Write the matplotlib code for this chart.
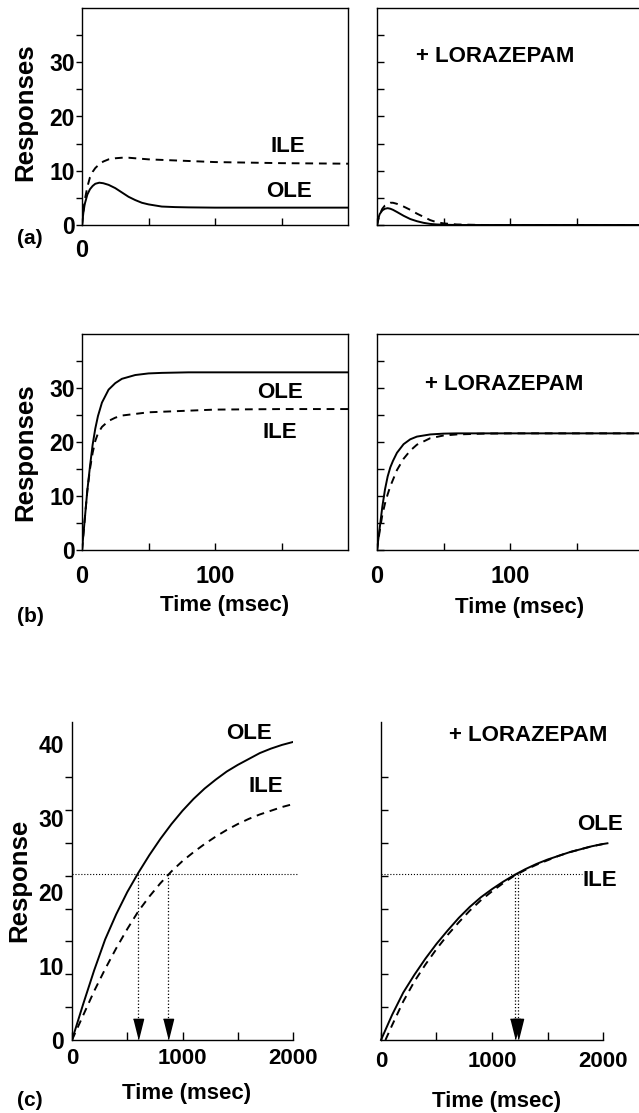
import matplotlib

matplotlib.use("Agg")
import matplotlib.pyplot as plt

plt.rcParams["font.family"] = ["Liberation Sans", "DejaVu Sans"]
plt.rcParams["font.weight"] = "bold"

# (a) responses, control and + lorazepam
t_a = [0, 1, 2, 4, 6, 8, 10, 13, 16, 20, 25, 30, 35, 40, 45, 50, 55, 60, 70, 80, 100, 150, 200]
ole_a = [0, 2.2, 3.8, 5.6, 6.6, 7.2, 7.6, 7.8, 7.7, 7.4, 6.8, 6.0, 5.2, 4.6, 4.1, 3.8, 3.6, 3.4,
         3.3, 3.25, 3.2, 3.2, 3.2]
ile_a = [0, 2.5, 4.5, 7.0, 8.8, 9.8, 10.5, 11.2, 11.7, 12.1, 12.3, 12.4, 12.4, 12.3, 12.2, 12.1,
         12.05, 12.0, 11.9, 11.8, 11.6, 11.4, 11.3]

t_a_lz = [0, 1, 2, 4, 6, 8, 10, 12, 15, 20, 25, 30, 35, 40, 45, 50, 60, 80, 100, 150, 200]
ole_a_lz = [0, 1.2, 2.0, 2.7, 3.0, 3.1, 3.0, 2.8, 2.4, 1.7, 1.1, 0.7, 0.4, 0.2, 0.1, 0.05, 0, 0,
            0, 0, 0]
ile_a_lz = [0, 1.0, 1.9, 3.0, 3.6, 3.9, 4.1, 4.1, 3.9, 3.4, 2.8, 2.1, 1.5, 0.9, 0.5, 0.3, 0.1, 0,
            0, 0, 0]

# (b)
t_b = [0, 2, 4, 6, 8, 10, 12, 15, 20, 25, 30, 40, 50, 60, 80, 100, 150, 200]
ole_b = [0, 5.5, 11, 15.5, 19.5, 22.5, 24.8, 27.3, 29.7, 30.9, 31.7, 32.4, 32.7, 32.8, 32.9,
         32.9, 32.9, 32.9]
ile_b = [0, 5.5, 11, 15, 18, 20.2, 21.6, 22.8, 23.9, 24.5, 24.9, 25.2, 25.5, 25.6, 25.8, 26.0,
         26.1, 26.1]
ole_b_lz = [0, 4.0, 8.0, 11.2, 13.6, 15.3, 16.5, 18.0, 19.6, 20.5, 21.0, 21.4, 21.55, 21.6, 21.6,
            21.6, 21.6, 21.6]
ile_b_lz = [0, 3.5, 6.5, 8.6, 10.3, 11.8, 13.0, 14.8, 16.9, 18.4, 19.5, 20.7, 21.2, 21.4, 21.55,
            21.6, 21.6, 21.6]

# (c) long time course
t_c = [0, 100, 200, 300, 400, 500, 600, 700, 800, 900, 1000, 1100, 1200, 1300, 1400, 1500, 1600,
       1700, 1800, 1900, 2000]
ole_c = [0, 4.8, 9.4, 13.6, 17.0, 20.0, 22.6, 25.0, 27.2, 29.2, 31.0, 32.6, 34.0, 35.2, 36.3,
         37.2, 38.0, 38.8, 39.4, 39.9, 40.3]
ile_c = [0, 3.3, 6.6, 9.6, 12.4, 15.0, 17.4, 19.4, 21.2, 22.8, 24.2, 25.4, 26.5, 27.5, 28.4, 29.2,
         29.9, 30.5, 31.0, 31.5, 31.9]

t_c_lz_ole = [0, 100, 200, 300, 400, 500, 600, 700, 800, 900, 1000, 1100, 1200, 1300, 1400, 1500,
              1600, 1700, 1800, 1900, 2000, 2040]
ole_c_lz = [0, 3.4, 6.4, 8.8, 11.0, 13.0, 14.8, 16.5, 18.0, 19.3, 20.4, 21.4, 22.3, 23.1, 23.8,
            24.4, 24.9, 25.4, 25.8, 26.2, 26.5, 26.6]
t_c_lz_ile = [40, 100, 200, 300, 400, 500, 600, 700, 800, 900, 1000, 1100, 1200, 1300, 1400,
              1500, 1600, 1700, 1800, 1900, 2000]
ile_c_lz = [0, 2.0, 5.2, 7.9, 10.2, 12.3, 14.2, 15.9, 17.5, 18.9, 20.1, 21.2, 22.2, 23.0, 23.7,
            24.3, 24.9, 25.4, 25.8, 26.2, 26.5]

threshold = 22.5
cross_c = [600, 870]
cross_c_lz = [1207, 1234]

W, H = 639, 1113
DASH = (0, (4, 3))
LW = 1.4
TXT = 16


def box(x0, y0, x1, y1):
    # pixel box -> figure fraction rect
    return [x0 / W, 1 - y1 / H, (x1 - x0) / W, (y1 - y0) / H]


def ftext(x, y, s, **kw):
    fig.text(x / W, 1 - y / H, s, ha="center", va="center", **kw)


fig = plt.figure(figsize=(W / 100, H / 100), dpi=100)

ax_a = fig.add_axes(box(82, 8, 348, 225))
ax_a2 = fig.add_axes(box(377, 8, 643, 225))
ax_b = fig.add_axes(box(82, 334, 348, 550))
ax_b2 = fig.add_axes(box(377, 334, 643, 550))
ax_c = fig.add_axes(box(72, 722, 293, 1040))
ax_c2 = fig.add_axes(box(381, 722, 603, 1040))

# short-time panels
for ax, left in [(ax_a, True), (ax_a2, False), (ax_b, True), (ax_b2, False)]:
    ax.set_xlim(0, 200)
    ax.set_ylim(0, 40)
    ax.set_yticks([0, 10, 20, 30])
    ax.set_yticks([5, 15, 25, 35], minor=True)
    ax.set_xticks([0, 50, 100, 150])
    for s in ax.spines.values():
        s.set_linewidth(1.0)
    ax.tick_params(axis="x", direction="in", length=5, width=1.0, labelsize=17)
    if left:
        ax.set_yticklabels(["0", "10", "20", "30"])
        ax.tick_params(axis="y", which="both", direction="out", length=4, width=1.0,
                       pad=1, labelsize=16.5)
    else:
        ax.set_yticklabels([])
        ax.tick_params(axis="y", which="both", direction="in", length=5, width=1.0)

ax_a.set_xticklabels(["0", "", "", ""])
ax_a.tick_params(axis="x", pad=10)
ax_a2.set_xticklabels([])
for ax in (ax_b, ax_b2):
    ax.set_xticklabels(["0", "", "100", ""])
    ax.tick_params(axis="x", pad=11)

ax_a.plot(t_a, ole_a, "k-", lw=LW)
ax_a.plot(t_a, ile_a, color="k", ls=DASH, lw=LW)
ax_a.text(155, 14.4, "ILE", ha="center", va="center", fontsize=TXT)
ax_a.text(156, 6.1, "OLE", ha="center", va="center", fontsize=TXT)

ax_a2.plot(t_a_lz, ole_a_lz, "k-", lw=LW)
ax_a2.plot(t_a_lz, ile_a_lz, color="k", ls=DASH, lw=LW)
ax_a2.text(89, 31.1, "+ LORAZEPAM", ha="center", va="center", fontsize=TXT)

ax_b.plot(t_b, ole_b, "k-", lw=LW)
ax_b.plot(t_b, ile_b, color="k", ls=DASH, lw=LW)
ax_b.text(149, 29.1, "OLE", ha="center", va="center", fontsize=TXT)
ax_b.text(149, 21.7, "ILE", ha="center", va="center", fontsize=TXT)

ax_b2.plot(t_b, ole_b_lz, "k-", lw=LW)
ax_b2.plot(t_b, ile_b_lz, color="k", ls=DASH, lw=LW)
ax_b2.text(96, 30.6, "+ LORAZEPAM", ha="center", va="center", fontsize=TXT)

# long-time panels
tick_c = [40 * i / 9 for i in range(10)]
for ax, left in [(ax_c, True), (ax_c2, False)]:
    ax.set_xlim(0, 2000)
    ax.set_ylim(0, 43)
    ax.spines["top"].set_visible(False)
    ax.spines["right"].set_visible(False)
    for s in ax.spines.values():
        s.set_linewidth(1.0)
    ax.set_xticks([0, 500, 1000, 1500, 2000])
    ax.set_xticklabels(["0", "", "1000", "", "2000"])
    ax.set_yticks([0, 10, 20, 30, 40])
    ax.set_yticks(tick_c, minor=True)
    ax.tick_params(axis="x", direction="in", length=6, width=1.0, labelsize=16)
    ax.tick_params(axis="y", which="major", length=0)
    if left:
        ax.set_yticklabels(["0", "10", "20", "30", "40"])
        ax.tick_params(axis="y", which="minor", direction="out", length=5, width=1.0)
        ax.tick_params(axis="y", which="major", pad=6, labelsize=16.5)
        ax.tick_params(axis="x", pad=6)
    else:
        ax.set_yticklabels([])
        ax.tick_params(axis="y", which="minor", direction="in", length=5, width=1.0)
        ax.tick_params(axis="x", pad=8)

ax_c.plot(t_c, ole_c, "k-", lw=LW)
ax_c.plot(t_c, ile_c, color="k", ls=DASH, lw=LW)
ax_c.plot([0, 2045], [threshold, threshold], color="k", ls=":", lw=0.8, clip_on=False)
for tx in cross_c:
    ax_c.plot([tx, tx], [threshold, 1], color="k", ls=":", lw=0.9)
    ax_c.plot(tx, 0.2, marker=[(-0.25, 1), (0.25, 1), (0, 0)], ms=29, color="k", clip_on=False)
ax_c.text(1602, 41.5, "OLE", ha="center", va="center", fontsize=TXT)
ax_c.text(1756, 34.3, "ILE", ha="center", va="center", fontsize=TXT)

ax_c2.plot(t_c_lz_ole, ole_c_lz, "k-", lw=LW, clip_on=False)
ax_c2.plot(t_c_lz_ile, ile_c_lz, color="k", ls=DASH, lw=LW)
ax_c2.plot([0, 1810], [threshold, threshold], color="k", ls=":", lw=0.8)
for tx in cross_c_lz:
    ax_c2.plot([tx, tx], [threshold, 1], color="k", ls=":", lw=0.9)
    ax_c2.plot(tx, 0.2, marker=[(-0.25, 1), (0.25, 1), (0, 0)], ms=29, color="k", clip_on=False)
ax_c2.text(1324, 41.2, "+ LORAZEPAM", ha="center", va="center", fontsize=TXT)
ax_c2.text(1973, 29.1, "OLE", ha="center", va="center", fontsize=TXT)
ax_c2.text(1973, 21.6, "ILE", ha="center", va="center", fontsize=TXT)

# figure-level labels
ftext(25, 112, "Responses", rotation=90, fontsize=18.5)
ftext(25, 452, "Responses", rotation=90, fontsize=18.5)
ftext(19, 880, "Response", rotation=90, fontsize=18.5)
ftext(225, 606, "Time (msec)", fontsize=16)
ftext(520, 608, "Time (msec)", fontsize=16)
ftext(187, 1094, "Time (msec)", fontsize=16)
ftext(497, 1101, "Time (msec)", fontsize=16)
ftext(30, 239, "(a)", fontsize=15)
ftext(30, 617, "(b)", fontsize=15)
ftext(30, 1101, "(c)", fontsize=15)

fig.savefig("out.png", dpi=100)
